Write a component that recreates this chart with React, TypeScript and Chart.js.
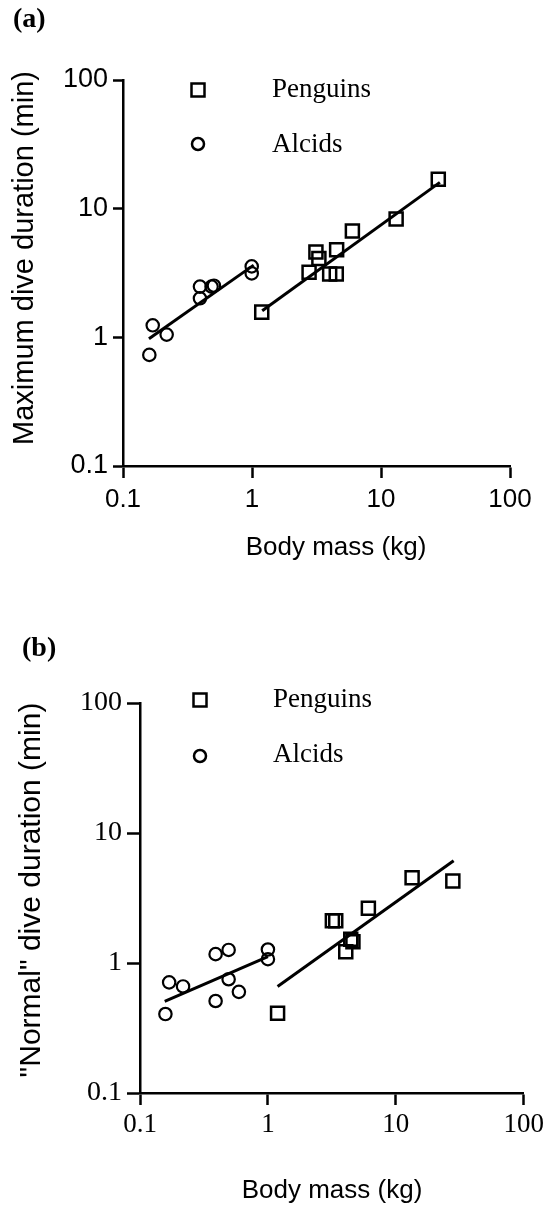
import React, { useEffect, useRef } from 'react';
import { Chart, registerables } from 'chart.js';

Chart.register(...registerables);

// ---------- shared text / ticks ----------
const tickValues = [0.1, 1, 10, 100];
const tickLabels = ['0.1', '1', '10', '100'];
const seriesNames = ['Penguins', 'Alcids'];
const panelLabels = ['(a)', '(b)'];
const xTitle = 'Body mass (kg)';
const yTitleA = 'Maximum dive duration (min)';
const yTitleB = '"Normal" dive duration (min)';

// ---------- panel (a): maximum dive duration ----------
const penguinMassA = [1.19, 2.77, 3.13, 3.3, 4.53, 4.0, 4.5, 6.0, 13.1, 27.8];
const penguinMaxDive = [1.57, 3.2, 4.6, 4.1, 4.8, 3.1, 3.1, 6.7, 8.3, 16.9];
const alcidMassA = [0.16, 0.17, 0.218, 0.395, 0.395, 0.486, 0.507, 0.995, 0.995];
const alcidMaxDive = [0.73, 1.24, 1.05, 2.01, 2.48, 2.48, 2.52, 3.56, 3.14];
const penguinFitMassA = [1.2, 28.6];
const penguinFitDiveA = [1.61, 16.0];
const alcidFitMassA = [0.159, 1.03];
const alcidFitDiveA = [0.975, 3.64];

// ---------- panel (b): "normal" dive duration ----------
const penguinMassB = [1.19, 3.19, 3.39, 4.06, 4.44, 4.62, 6.1, 13.4, 27.9];
const penguinNormalDive = [0.41, 2.11, 2.11, 1.22, 1.52, 1.46, 2.64, 4.53, 4.27];
const alcidMassB = [0.158, 0.169, 0.217, 0.39, 0.39, 0.493, 0.493, 0.593, 1.0, 1.0];
const alcidNormalDive = [0.405, 0.71, 0.66, 0.51, 1.17, 1.26, 0.75, 0.6, 1.27, 1.07];
const penguinFitMassB = [1.19, 28.3];
const penguinFitDiveB = [0.66, 6.12];
const alcidFitMassB = [0.156, 1.0];
const alcidFitDiveB = [0.507, 1.12];

const SANS = '"Liberation Sans", Arial, Helvetica, sans-serif';
const SERIF = '"Liberation Serif", "Times New Roman", Times, serif';

const toPoints = (xs: number[], ys: number[]) => xs.map((x, i) => ({ x, y: ys[i] }));

type PanelSpec = {
  width: number;
  height: number;
  area: { left: number; top: number; right: number; bottom: number };
  xTickFont: any;
  yTickFont: any;
  xTick: { len: number; pad: number };
  yTick: { len: number; pad: number };
  penguins: { x: number[]; y: number[] };
  alcids: { x: number[]; y: number[] };
  penguinFit: { x: number[]; y: number[] };
  alcidFit: { x: number[]; y: number[] };
  label: string;
  labelPos: [number, number];
  legend: { markerX: number; textX: number; rows: [number, number][]; font: string };
  xTitle: string;
  xTitlePos: [number, number];
  xTitleFont: string;
  yTitle: string;
  yTitlePos: [number, number];
  yTitleFont: string;
};

function overlayPlugin(spec: PanelSpec) {
  return {
    id: 'overlay',
    afterDraw(chart: any) {
      const ctx = chart.ctx as CanvasRenderingContext2D;
      ctx.save();
      ctx.fillStyle = '#000';
      ctx.strokeStyle = '#000';
      // panel label
      ctx.font = `bold 28px ${SERIF}`;
      ctx.textAlign = 'left';
      ctx.textBaseline = 'alphabetic';
      ctx.fillText(spec.label, spec.labelPos[0], spec.labelPos[1]);
      // legend
      const lg = spec.legend;
      ctx.lineWidth = 2.5;
      seriesNames.forEach((name, i) => {
        const [my, ty] = lg.rows[i];
        ctx.beginPath();
        if (i === 0) {
          ctx.rect(lg.markerX - 6.5, my - 6.5, 13, 13);
        } else {
          ctx.arc(lg.markerX, my, 6, 0, Math.PI * 2);
        }
        ctx.stroke();
        ctx.font = lg.font;
        ctx.fillText(name, lg.textX, ty);
      });
      // x title
      ctx.font = spec.xTitleFont;
      ctx.textAlign = 'center';
      ctx.fillText(spec.xTitle, spec.xTitlePos[0], spec.xTitlePos[1]);
      // y title
      ctx.translate(spec.yTitlePos[0], spec.yTitlePos[1]);
      ctx.rotate(-Math.PI / 2);
      ctx.font = spec.yTitleFont;
      ctx.textAlign = 'center';
      ctx.fillText(spec.yTitle, 0, 0);
      ctx.restore();
    },
  };
}

function makeConfig(spec: PanelSpec): any {
  const a = spec.area;
  const axisBase = (font: any, tick: { len: number; pad: number }) => ({
    type: 'logarithmic',
    min: 0.1,
    max: 100,
    afterBuildTicks: (s: any) => {
      s.ticks = tickValues.map((v) => ({ value: v }));
    },
    ticks: {
      callback: (_v: any, i: number) => tickLabels[i],
      font,
      color: '#000',
      padding: tick.pad,
      maxRotation: 0,
      minRotation: 0,
      autoSkip: false,
    },
    grid: {
      display: true,
      drawOnChartArea: false,
      drawTicks: true,
      tickLength: tick.len,
      tickWidth: 2.5,
      tickColor: '#000',
    },
    border: { display: true, color: '#000', width: 2.5 },
    title: { display: false },
  });
  return {
    type: 'scatter',
    data: {
      datasets: [
        {
          label: 'Penguins fit',
          data: toPoints(spec.penguinFit.x, spec.penguinFit.y),
          showLine: true,
          pointRadius: 0,
          borderColor: '#000',
          borderWidth: 3,
          order: 2,
        },
        {
          label: 'Alcids fit',
          data: toPoints(spec.alcidFit.x, spec.alcidFit.y),
          showLine: true,
          pointRadius: 0,
          borderColor: '#000',
          borderWidth: 3,
          order: 2,
        },
        {
          label: seriesNames[0],
          data: toPoints(spec.penguins.x, spec.penguins.y),
          pointStyle: 'rect',
          pointRadius: 9.2,
          pointBorderWidth: 2.5,
          borderWidth: 2.5,
          borderColor: '#000',
          backgroundColor: 'rgba(0,0,0,0)',
          pointBackgroundColor: 'rgba(0,0,0,0)',
          order: 1,
        },
        {
          label: seriesNames[1],
          data: toPoints(spec.alcids.x, spec.alcids.y),
          pointStyle: 'circle',
          pointRadius: 6.2,
          pointBorderWidth: 2.2,
          borderWidth: 2.2,
          borderColor: '#000',
          backgroundColor: 'rgba(0,0,0,0)',
          pointBackgroundColor: 'rgba(0,0,0,0)',
          order: 1,
        },
      ],
    },
    options: {
      responsive: false,
      animation: false,
      events: [],
      layout: {
        padding: { top: a.top, right: spec.width - a.right, left: 0, bottom: 0 },
      },
      plugins: { legend: { display: false }, tooltip: { enabled: false } },
      scales: {
        x: {
          ...axisBase(spec.xTickFont, spec.xTick),
          position: 'bottom',
          afterFit: (s: any) => {
            s.height = spec.height - a.bottom;
          },
        },
        y: {
          ...axisBase(spec.yTickFont, spec.yTick),
          position: 'left',
          afterFit: (s: any) => {
            s.width = a.left;
          },
        },
      },
    },
    plugins: [overlayPlugin(spec)],
  };
}

const specA: PanelSpec = {
  width: 548,
  height: 580,
  area: { left: 123, top: 80, right: 510, bottom: 466 },
  xTickFont: { family: SANS, size: 26 },
  yTickFont: { family: SANS, size: 27 },
  xTick: { len: 12, pad: 6 },
  yTick: { len: 10, pad: 5 },
  penguins: { x: penguinMassA, y: penguinMaxDive },
  alcids: { x: alcidMassA, y: alcidMaxDive },
  penguinFit: { x: penguinFitMassA, y: penguinFitDiveA },
  alcidFit: { x: alcidFitMassA, y: alcidFitDiveA },
  label: panelLabels[0],
  labelPos: [13, 27],
  legend: { markerX: 198, textX: 272, rows: [[90, 97], [144, 152]], font: `27px ${SERIF}` },
  xTitle,
  xTitlePos: [336, 555],
  xTitleFont: `26px ${SANS}`,
  yTitle: yTitleA,
  yTitlePos: [33, 258],
  yTitleFont: `29px ${SANS}`,
};

const specB: PanelSpec = {
  width: 548,
  height: 627,
  area: { left: 140, top: 123, right: 525, bottom: 513 },
  xTickFont: { family: SERIF, size: 27 },
  yTickFont: { family: SERIF, size: 28 },
  xTick: { len: 12, pad: 4 },
  yTick: { len: 13, pad: 5 },
  penguins: { x: penguinMassB, y: penguinNormalDive },
  alcids: { x: alcidMassB, y: alcidNormalDive },
  penguinFit: { x: penguinFitMassB, y: penguinFitDiveB },
  alcidFit: { x: alcidFitMassB, y: alcidFitDiveB },
  label: panelLabels[1],
  labelPos: [22, 76],
  legend: { markerX: 200, textX: 273, rows: [[120, 127], [176, 182]], font: `27px ${SERIF}` },
  xTitle,
  xTitlePos: [332, 618],
  xTitleFont: `26px ${SANS}`,
  yTitle: yTitleB,
  yTitlePos: [40, 310],
  yTitleFont: `30px ${SANS}`,
};

export default function App() {
  const refA = useRef<HTMLCanvasElement | null>(null);
  const refB = useRef<HTMLCanvasElement | null>(null);

  useEffect(() => {
    const charts: Chart[] = [];
    if (refA.current) charts.push(new Chart(refA.current, makeConfig(specA)));
    if (refB.current) charts.push(new Chart(refB.current, makeConfig(specB)));
    return () => charts.forEach((c) => c.destroy());
  }, []);

  return (
    <div
      style={{
        position: 'absolute',
        left: 0,
        top: 0,
        width: 548,
        height: 1207,
        background: '#fff',
        overflow: 'hidden',
      }}
    >
      <canvas
        ref={refA}
        width={specA.width}
        height={specA.height}
        style={{ position: 'absolute', left: 0, top: 0, width: specA.width, height: specA.height }}
      />
      <canvas
        ref={refB}
        width={specB.width}
        height={specB.height}
        style={{ position: 'absolute', left: 0, top: 580, width: specB.width, height: specB.height }}
      />
    </div>
  );
}
